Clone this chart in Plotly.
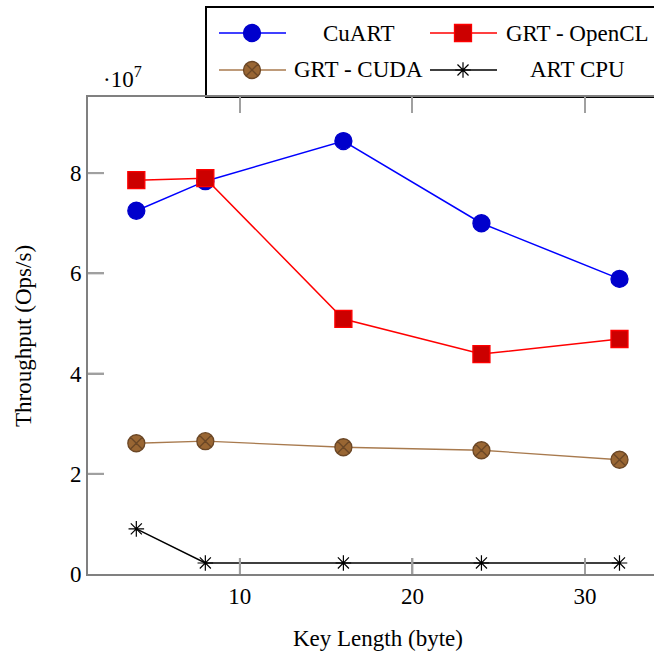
import plotly.graph_objects as go

W, H = 654, 653

key_len = [4, 8, 16, 24, 32]
cuart = [7.25e7, 7.84e7, 8.64e7, 7.00e7, 5.89e7]
grt_opencl = [7.86e7, 7.90e7, 5.09e7, 4.39e7, 4.69e7]
grt_cuda = [2.61e7, 2.65e7, 2.53e7, 2.47e7, 2.28e7]
art_cpu = [0.90e7, 0.22e7, 0.22e7, 0.22e7, 0.22e7]

x_ticks = [10, 20, 30]
y_ticks = [0, 2e7, 4e7, 6e7, 8e7]
y_tick_labels = ["0", "2", "4", "6", "8"]

FONT = "Liberation Serif"
FS = 23

# plot-area geometry (pixels) and axis ranges
PL, PR, PT, PB = 88, W, 97, 574
XR = [1.2, 34.0]
YR = [0, 9.52e7]
TICKLEN = 16
TICKCOL = "#a0a0a0"
AXCOL = "#808080"

series = [
    dict(name="CuART", y=cuart, line="#0000ff", symbol="circle", fill="#0000cc", mline="#0000cc", size=17, lw=1.5),
    dict(name="GRT - OpenCL", y=grt_opencl, line="#ff0000", symbol="square", fill="#cc0000", mline="#ff0000", size=17, lw=1.5),
    dict(name="GRT - CUDA", y=grt_cuda, line="#a87a4e", symbol="circle-x", fill="#996633", mline="#6b4726", size=17, lw=1.3),
    dict(name="ART CPU", y=art_cpu, line="#000000", symbol="asterisk-open", fill="#000000", mline="#000000", size=13, lw=1.5),
]

def mline_w(s):
    return 1.2 if s["symbol"] == "asterisk-open" else 1.3

fig = go.Figure()
for s in series:
    fig.add_trace(go.Scatter(
        x=key_len, y=s["y"], mode="lines+markers", name=s["name"], showlegend=False,
        line=dict(color=s["line"], width=s["lw"]),
        marker=dict(symbol=s["symbol"], size=s["size"], color=s["fill"],
                    line=dict(color=s["mline"], width=mline_w(s))),
        cliponaxis=False,
    ))

def px(x):
    return x / W

def py(y):
    return 1 - y / H

shapes = []
# inner tick marks (bottom and left), positioned from the tick value lists
for t in x_ticks:
    shapes.append(dict(type="line", xref="x", yref="paper", x0=t, x1=t, y0=py(PB), y1=py(PB - TICKLEN),
                       line=dict(color=TICKCOL, width=2), layer="above"))
for t in y_ticks[1:]:
    shapes.append(dict(type="line", xref="paper", yref="y", x0=px(PL), x1=px(PL + TICKLEN), y0=t, y1=t,
                       line=dict(color=TICKCOL, width=2), layer="above"))

# legend (pgfplots-style two-column box)
leg_rows = [33, 70]
leg_cols = [(219, 286, 252, 358), (430, 497, 463, 577)]
shapes.append(dict(type="rect", xref="paper", yref="paper", x0=px(206), x1=px(680), y0=py(97), y1=py(7),
                   line=dict(color="#000000", width=2), fillcolor="white", layer="below"))
annotations = []
for i, s in enumerate(series):
    r, c = divmod(i, 2)
    yy = leg_rows[r]
    x0, x1, xm, xt = leg_cols[c]
    shapes.append(dict(type="line", xref="paper", yref="paper", x0=px(x0), x1=px(x1), y0=py(yy), y1=py(yy),
                       line=dict(color=s["line"], width=s["lw"]), layer="below"))
    fig.add_trace(go.Scatter(
        x=[xm], y=[yy], xaxis="x2", yaxis="y2", mode="markers", showlegend=False, hoverinfo="skip",
        marker=dict(symbol=s["symbol"], size=s["size"], color=s["fill"],
                    line=dict(color=s["mline"], width=mline_w(s))),
        cliponaxis=False,
    ))
    annotations.append(dict(xref="paper", yref="paper", x=px(xt), y=py(yy), text=s["name"], showarrow=False,
                            xanchor="center", yanchor="middle", font=dict(family=FONT, size=FS, color="#000")))

annotations += [
    dict(xref="paper", yref="paper", x=px(378), y=py(638), text="Key Length (byte)", showarrow=False,
         xanchor="center", yanchor="middle", font=dict(family=FONT, size=FS, color="#000")),
    dict(xref="paper", yref="paper", x=px(23), y=py(336), text="Throughput (Ops/s)", showarrow=False,
         textangle=-90, xanchor="center", yanchor="middle", font=dict(family=FONT, size=FS, color="#000")),
    dict(xref="paper", yref="paper", x=px(101), y=py(77), text="·10<sup>7</sup>", showarrow=False,
         xanchor="left", yanchor="middle", font=dict(family=FONT, size=FS, color="#000")),
]

fig.update_layout(
    width=W, height=H, margin=dict(l=0, r=0, t=0, b=0, autoexpand=False),
    paper_bgcolor="white", plot_bgcolor="rgba(0,0,0,0)",
    font=dict(family=FONT, size=FS, color="#000"),
    shapes=shapes, annotations=annotations,
    xaxis=dict(domain=[PL / W, PR / W], range=XR, tickvals=x_ticks, ticks="inside", ticklen=TICKLEN,
               tickwidth=2, tickcolor=TICKCOL, showline=True, linecolor=AXCOL, linewidth=2,
               mirror="ticks", showgrid=False, zeroline=False,
               tickfont=dict(family=FONT, size=FS, color="#000")),
    yaxis=dict(domain=[1 - PB / H, 1 - PT / H], range=YR, tickvals=y_ticks, ticktext=y_tick_labels,
               ticks="inside", ticklen=TICKLEN, tickwidth=2, tickcolor=TICKCOL, showline=True,
               linecolor=AXCOL, linewidth=2, mirror=False, showgrid=False, zeroline=False,
               tickfont=dict(family=FONT, size=FS, color="#000")),
    xaxis2=dict(domain=[0, 1], range=[0, W], visible=False, anchor="y2", fixedrange=True),
    yaxis2=dict(domain=[0, 1], range=[H, 0], visible=False, anchor="x2", fixedrange=True),
)

fig.write_html("out.html")
